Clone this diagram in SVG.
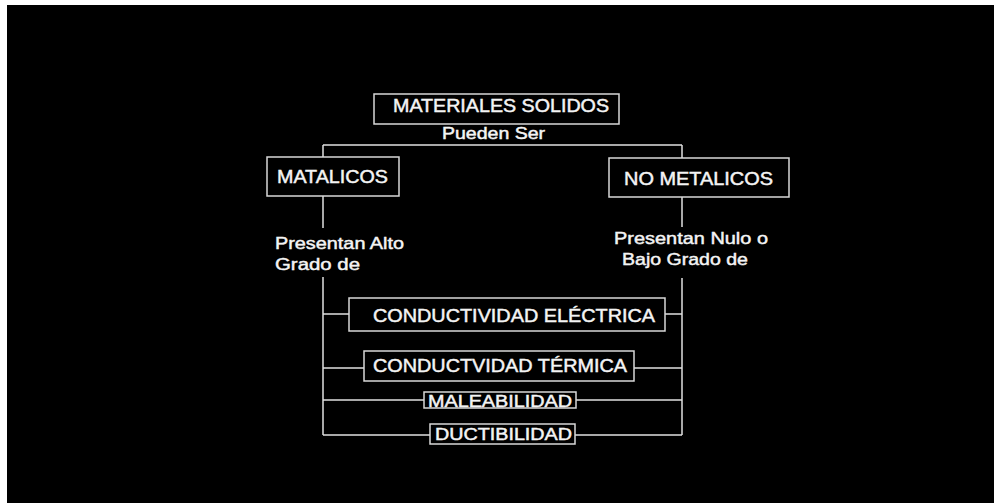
<svg xmlns="http://www.w3.org/2000/svg" width="994" height="503" viewBox="0 0 994 503">
<style>
.bg{fill:#000}
.box{fill:#000;stroke:#d8d8d8;stroke-width:1.5}
.ln{fill:none;stroke:#e0e0e0;stroke-width:1.5}
text{font-family:"Liberation Sans",Arial,sans-serif;fill:#f4f4f4;stroke:#f4f4f4;stroke-width:0.45}
</style>
<rect x="0" y="0" width="994" height="503" fill="#fff"/>
<rect class="bg" x="7" y="5" width="987" height="498"/>
<g id="connectors">
<path class="ln" d="M323,145 H682"/>
<path class="ln" d="M323,145 V157 M682,145 V158"/>
<path class="ln" d="M323,196 V228 M682,197 V227"/>
<path class="ln" d="M323,277 V435 M682,278 V435"/>
<path class="ln" d="M323,314 H349 M665,314 H682"/>
<path class="ln" d="M323,368 H364 M634,368 H682"/>
<path class="ln" d="M323,400 H424 M576,400 H682"/>
<path class="ln" d="M323,435 H430 M575,435 H682"/>
</g>
<g id="materiales">
<rect class="box" x="374" y="94" width="245" height="30"/>
<text x="393" y="112" font-size="18" textLength="216" lengthAdjust="spacingAndGlyphs">MATERIALES SOLIDOS</text>
</g>
<g id="pueden">
<text x="442" y="139" font-size="16" textLength="103" lengthAdjust="spacingAndGlyphs">Pueden Ser</text>
</g>
<g id="metalicos">
<rect class="box" x="267" y="157" width="132" height="39"/>
<text x="277" y="183" font-size="18" textLength="111" lengthAdjust="spacingAndGlyphs">MATALICOS</text>
</g>
<g id="nometalicos">
<rect class="box" x="609" y="158" width="180" height="39"/>
<text x="624" y="185" font-size="18" textLength="149" lengthAdjust="spacingAndGlyphs">NO METALICOS</text>
</g>
<g id="alto">
<text x="275" y="249" font-size="17" textLength="129" lengthAdjust="spacingAndGlyphs">Presentan Alto</text>
<text x="275" y="270" font-size="17" textLength="85" lengthAdjust="spacingAndGlyphs">Grado de</text>
</g>
<g id="nulo">
<text x="614" y="244" font-size="17" textLength="154" lengthAdjust="spacingAndGlyphs">Presentan Nulo o</text>
<text x="622" y="265" font-size="17" textLength="126" lengthAdjust="spacingAndGlyphs">Bajo Grado de</text>
</g>
<g id="electrica">
<rect class="box" x="349" y="298" width="316" height="33"/>
<text x="373" y="322" font-size="18" textLength="282" lengthAdjust="spacingAndGlyphs">CONDUCTIVIDAD ELÉCTRICA</text>
</g>
<g id="termica">
<rect class="box" x="364" y="351" width="270" height="30"/>
<text x="373" y="372" font-size="18" textLength="254" lengthAdjust="spacingAndGlyphs">CONDUCTVIDAD TÉRMICA</text>
</g>
<g id="maleabilidad">
<rect class="box" x="424" y="392" width="152" height="16"/>
<text x="428" y="407" font-size="16.5" textLength="144" lengthAdjust="spacingAndGlyphs">MALEABILIDAD</text>
</g>
<g id="ductibilidad">
<rect class="box" x="430" y="424" width="145" height="20"/>
<text x="435" y="440" font-size="16.5" textLength="137" lengthAdjust="spacingAndGlyphs">DUCTIBILIDAD</text>
</g>
</svg>
